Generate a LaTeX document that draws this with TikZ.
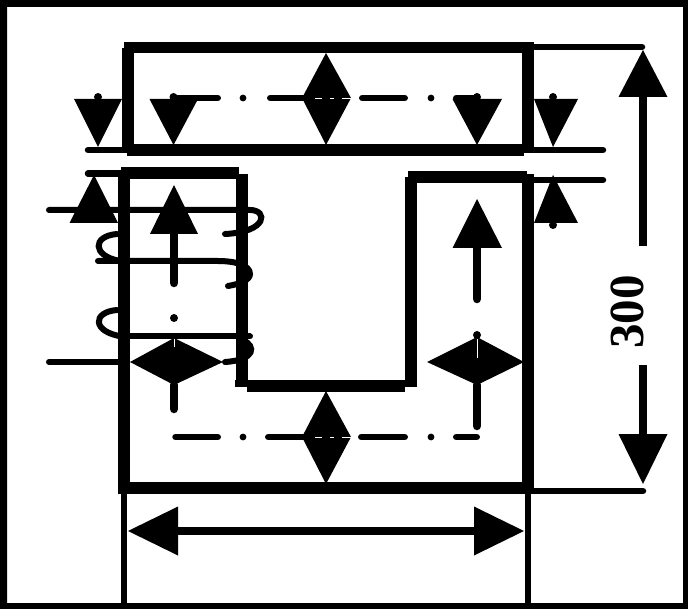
\documentclass[tikz,border=0pt]{standalone}
\usepackage{fontspec}
\setmainfont{Liberation Serif}
\begin{document}
\begin{tikzpicture}[x=1pt,y=-1pt,
  corebar/.style={fill=black,draw=none},
  thinline/.style={line width=6.5pt,line cap=round},
  coil/.style={line width=6pt,line cap=round},
  shaft/.style={line width=8.5pt},
  rshaft/.style={line width=8.5pt,line cap=round},
  center/.style={line width=6.5pt,line cap=round},
  headfill/.style={fill=black,draw=none},
  dotfill/.style={fill=black,draw=none},
  slit/.style={white,line width=.8pt}]
\useasboundingbox (0,0) rectangle (688,609);
% frame
\fill[even odd rule] (0,0) rectangle (688,609) (7,7) rectangle (683,603);
% extension lines
\draw[line width=6pt] (124,488) -- (124,604);
\draw[line width=6pt] (528,488) -- (528,604);
\draw[thinline] (528,47) -- (642,47);
\draw[thinline] (528,491) -- (643,491);
\draw[thinline] (88,150) -- (603,150);
\draw[thinline] (88,173.5) -- (122,173.5);
\draw[thinline] (528,180) -- (603,180);
% upper yoke
\fill[corebar] (123.5,42) rectangle (527,53.5);
\fill[corebar] (127,144.5) rectangle (524,156.5);
\fill[corebar] (122,48) rectangle (133.5,152);
\fill[corebar] (522,42) rectangle (534,150);
% U core
\fill[corebar] (117.5,173) rectangle (130,494);
\fill[corebar] (120.7,167) rectangle (239,179);
\fill[corebar] (236,174) rectangle (247.5,387);
\fill[corebar] (247,380) rectangle (405,392);
\fill[corebar] (235,380) rectangle (417,387);
\fill[corebar] (405,177) rectangle (417,387);
\fill[corebar] (408,171) rectangle (527,183);
\fill[corebar] (522,174) rectangle (534,488);
\fill[corebar] (117.5,482) rectangle (531,494);
% coil
\draw[coil] (49,210) -- (250,210) .. controls (268,210) and (268,232) .. (225,234);
\draw[coil] (117,234) .. controls (92,236) and (92,256) .. (120,261);
\draw[coil] (98,261) -- (218,261) .. controls (235,261) and (250,265) .. (250,274) .. controls (250,280) and (240,284) .. (228,286);
\draw[coil] (117,310) .. controls (92,312) and (92,332) .. (122,336.5);
\draw[coil] (122,336.5) -- (250,336.5);
\draw[coil] (243,340) .. controls (256,346) and (256,360) .. (225,362);
\draw[coil] (49,362) -- (120,362);
% top centre line
\draw[center] (176,98) -- (217.75,98);
\draw[center] (270.25,98) -- (305,98);
\draw[center] (362.25,98) -- (404.75,98);
\draw[center] (456.25,98) -- (477,98);
\fill[dotfill] (243,98) circle (3.4);
\fill[dotfill] (431,98) circle (3.4);
% bottom centre line
\draw[center] (175.5,437) -- (217.75,437);
\draw[center] (268.25,437) -- (305,437);
\draw[center] (361.25,437) -- (404.75,437);
\draw[center] (456.25,437) -- (476.75,437);
\fill[dotfill] (243,437) circle (3.4);
\fill[dotfill] (431,437) circle (3.4);
% shafts
\draw[rshaft] (174,234) -- (174,283);
\draw[rshaft] (174,385) -- (174,409);
\draw[rshaft] (477,248) -- (477,299);
\draw[rshaft] (477,385) -- (477,426);
\draw[shaft] (643,97) -- (643,246);
\draw[shaft] (643,365) -- (643,435);
\draw[shaft] (178,531) -- (475,531);
% dots
\foreach \p in {(98,97),(173.5,97),(477,97),(553,97),(553,225),(174,318),(477,335)}
  \fill[dotfill] \p circle (4);
% arrowheads
\fill[headfill] (74,99) -- (122,99) -- (98,147) -- cycle;
\fill[headfill] (149.5,99) -- (198,99) -- (173.5,145) -- cycle;
\fill[headfill] (452.5,99) -- (502,99) -- (477,145) -- cycle;
\fill[headfill] (534,99) -- (578,99) -- (553,147) -- cycle;
\fill[headfill] (69.5,223) -- (118,223) -- (94,175) -- cycle;
\fill[headfill] (534,223) -- (578,223) -- (553,175) -- cycle;
\fill[headfill] (150,234) -- (198,234) -- (174,185) -- cycle;
\fill[headfill] (452.5,248) -- (502,248) -- (477,199) -- cycle;
% diamonds
\fill[headfill] (302,98) -- (326,53) -- (351,98) -- (326,145) -- cycle;
\fill[headfill] (302,437) -- (326,391) -- (351,437) -- (326,484) -- cycle;
\fill[headfill] (130,362) -- (174,338) -- (223,362) -- (174,385) -- cycle;
\fill[headfill] (427,362) -- (477,337) -- (524,362) -- (477,385) -- cycle;
\draw[slit] (174,339) -- (174,347);
\draw[slit] (477,339) -- (477,358);
\draw[slit,dash pattern=on 7pt off 8pt on 4pt off 8pt on 9pt] (315,98) -- (351,98);
\draw[slit,dash pattern=on 7pt off 8pt on 4pt off 8pt on 9pt] (315,437) -- (351,437);
% dimension heads
\fill[headfill] (618.5,97) -- (667.5,97) -- (643,50) -- cycle;
\fill[headfill] (618.5,434) -- (667.5,434) -- (643,484) -- cycle;
\fill[headfill] (178,506.5) -- (178,555.5) -- (128,531) -- cycle;
\fill[headfill] (474,506.5) -- (474,555.5) -- (524,531) -- cycle;
\node[rotate=90,font=\fontsize{49}{49}\selectfont\bfseries,inner sep=0pt] (dim) at (627,312) {300};
\end{tikzpicture}
\end{document}
